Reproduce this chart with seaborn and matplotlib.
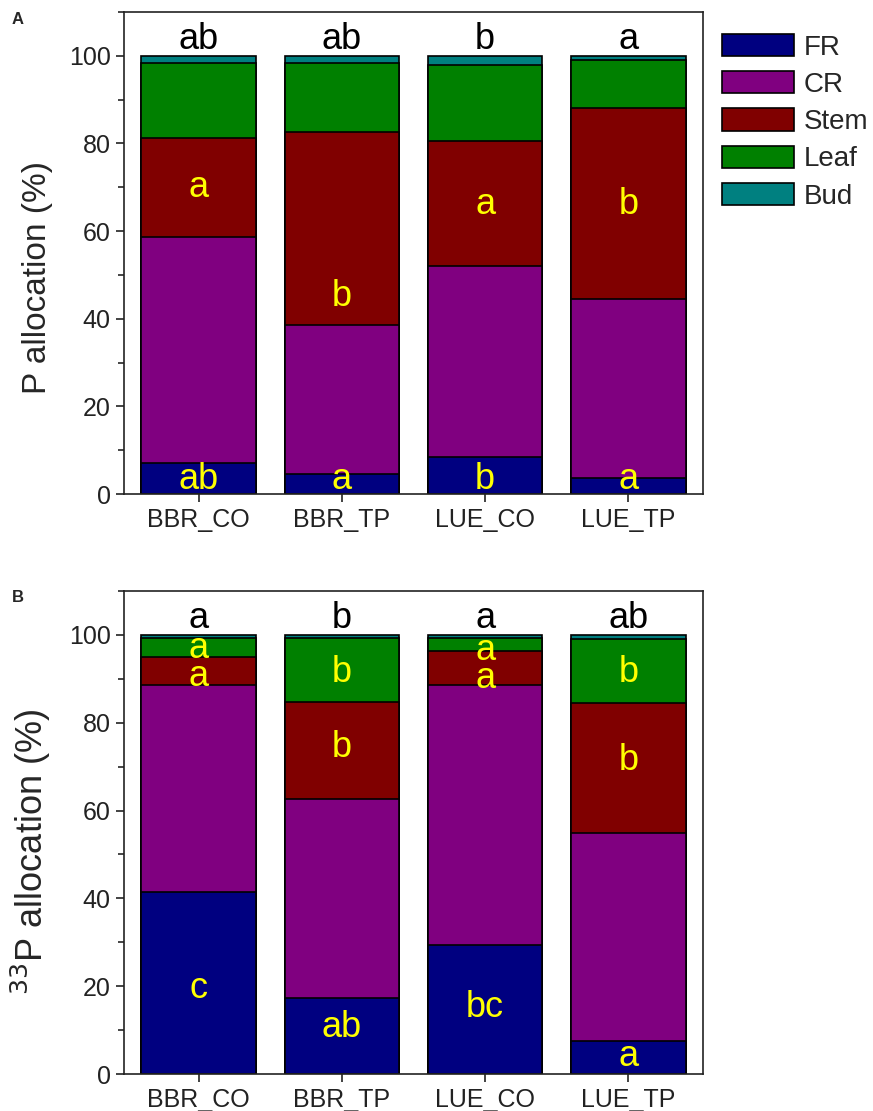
import numpy as np
import pandas as pd
import matplotlib
matplotlib.use('Agg')
import matplotlib.pyplot as plt
from matplotlib.patches import Patch
from matplotlib.ticker import MultipleLocator
import seaborn as sns

# dados (% de alocacao por compartimento)
grupos = ['BBR_CO', 'BBR_TP', 'LUE_CO', 'LUE_TP']
partes = ['FR', 'CR', 'Stem', 'Leaf', 'Bud']
cores = {'FR': '#000080', 'CR': '#800080', 'Stem': '#800000', 'Leaf': '#008000', 'Bud': '#008080'}

# painel A - P
a_fr = [7.1, 4.5, 8.5, 3.7]
a_cr = [51.6, 34.1, 43.5, 40.8]
a_stem = [22.6, 44.0, 28.6, 43.6]
a_leaf = [17.1, 15.8, 17.4, 10.9]
a_bud = [1.6, 1.6, 2.0, 1.0]

# painel B - 33P
b_fr = [41.4, 17.2, 29.3, 7.5]
b_cr = [47.2, 45.5, 59.3, 47.5]
b_stem = [6.4, 22.1, 7.8, 29.5]
b_leaf = [4.3, 14.4, 3.0, 14.6]
b_bud = [0.7, 0.8, 0.6, 0.9]

# letras de significancia
a_topo = ['ab', 'ab', 'b', 'a']
a_letras_stem = ['a', 'b', 'a', 'b']
a_letras_fr = ['ab', 'a', 'b', 'a']
b_topo = ['a', 'b', 'a', 'ab']
b_letras_leaf = ['a', 'b', 'a', 'b']
b_letras_stem = ['a', 'b', 'a', 'b']
b_letras_fr = ['c', 'ab', 'bc', 'a']


def empilhar(ax, valores):
    df = pd.DataFrame(valores, index=grupos)
    cum = df[partes].cumsum(axis=1)
    # desenha do topo para a base, barras sobrepostas
    for p in partes[::-1]:
        sns.barplot(x=grupos, y=cum[p].values, color=cores[p], edgecolor='black',
                    linewidth=1.2, width=0.8, saturation=1, ax=ax)
    return cum


def formatar(ax, ylabel, fs_label, ypos_label):
    ax.set_ylim(0, 110)
    ax.set_xlim(-0.52, 3.52)
    ax.set_yticks([0, 20, 40, 60, 80, 100])
    ax.yaxis.set_minor_locator(MultipleLocator(10))
    ax.tick_params(axis='both', which='major', direction='out', length=6, width=1.2,
                   labelsize=18, colors='#222222')
    ax.tick_params(axis='x', which='major', pad=4)
    ax.tick_params(axis='y', which='minor', direction='out', length=4, width=1.2)
    for s in ax.spines.values():
        s.set_visible(True)
        s.set_linewidth(1.2)
        s.set_color('#222222')
    ax.set_ylabel(ylabel, fontsize=fs_label)
    ax.yaxis.set_label_coords(-0.122, ypos_label)
    ax.set_xlabel('')


sns.set_style('ticks')
plt.rcParams['font.family'] = ['Liberation Sans', 'DejaVu Sans']

fig = plt.figure(figsize=(8.73, 11.11), dpi=100)
ax1 = fig.add_axes([124 / 873, 1 - 494 / 1111, 579 / 873, 482 / 1111])
ax2 = fig.add_axes([124 / 873, 1 - 1074 / 1111, 579 / 873, 483 / 1111])

amarelo = '#ffff00'
fs = 26

# painel A
cum_a = empilhar(ax1, {'FR': a_fr, 'CR': a_cr, 'Stem': a_stem, 'Leaf': a_leaf, 'Bud': a_bud})
formatar(ax1, 'P allocation (%)', 24, 0.45)
pos_stem_a = [70, 45, 66, 66]
for i in range(4):
    ax1.text(i, 99.8, a_topo[i], ha='center', va='bottom', fontsize=fs, color='black')
    ax1.text(i, 3.3, a_letras_fr[i], ha='center', va='center', fontsize=fs, color=amarelo)
    ax1.text(i, pos_stem_a[i], a_letras_stem[i], ha='center', va='center', fontsize=fs, color=amarelo)

# painel B
cum_b = empilhar(ax2, {'FR': b_fr, 'CR': b_cr, 'Stem': b_stem, 'Leaf': b_leaf, 'Bud': b_bud})
formatar(ax2, '$^{33}$P allocation (%)', 26, 0.46)
pos_leaf_b = [96.8, 91.4, 96.4, 91.4]
pos_stem_b = [90.5, 74.4, 90.0, 71.4]
pos_fr_b = [19.5, 10.7, 15.2, 3.9]
for i in range(4):
    ax2.text(i, 99.8, b_topo[i], ha='center', va='bottom', fontsize=fs, color='black')
    ax2.text(i, pos_leaf_b[i], b_letras_leaf[i], ha='center', va='center', fontsize=fs, color=amarelo)
    ax2.text(i, pos_stem_b[i], b_letras_stem[i], ha='center', va='center', fontsize=fs, color=amarelo)
    ax2.text(i, pos_fr_b[i], b_letras_fr[i], ha='center', va='center', fontsize=fs, color=amarelo)

# legenda
handles = [Patch(facecolor=cores[p], edgecolor='black', linewidth=1.2, label=p) for p in partes]
fig.legend(handles=handles, loc='upper left', bbox_to_anchor=(722 / 873, 1 - 34 / 1111),
           frameon=False, fontsize=20, handlelength=2.6, handleheight=0.85,
           labelspacing=0.38, handletextpad=0.35, borderpad=0, borderaxespad=0)

fig.text(12 / 873, 1 - 20 / 1111, 'A', fontsize=12, fontweight='bold', va='center')
fig.text(12 / 873, 1 - 598 / 1111, 'B', fontsize=12, fontweight='bold', va='center')

fig.savefig('out.png', dpi=100)
